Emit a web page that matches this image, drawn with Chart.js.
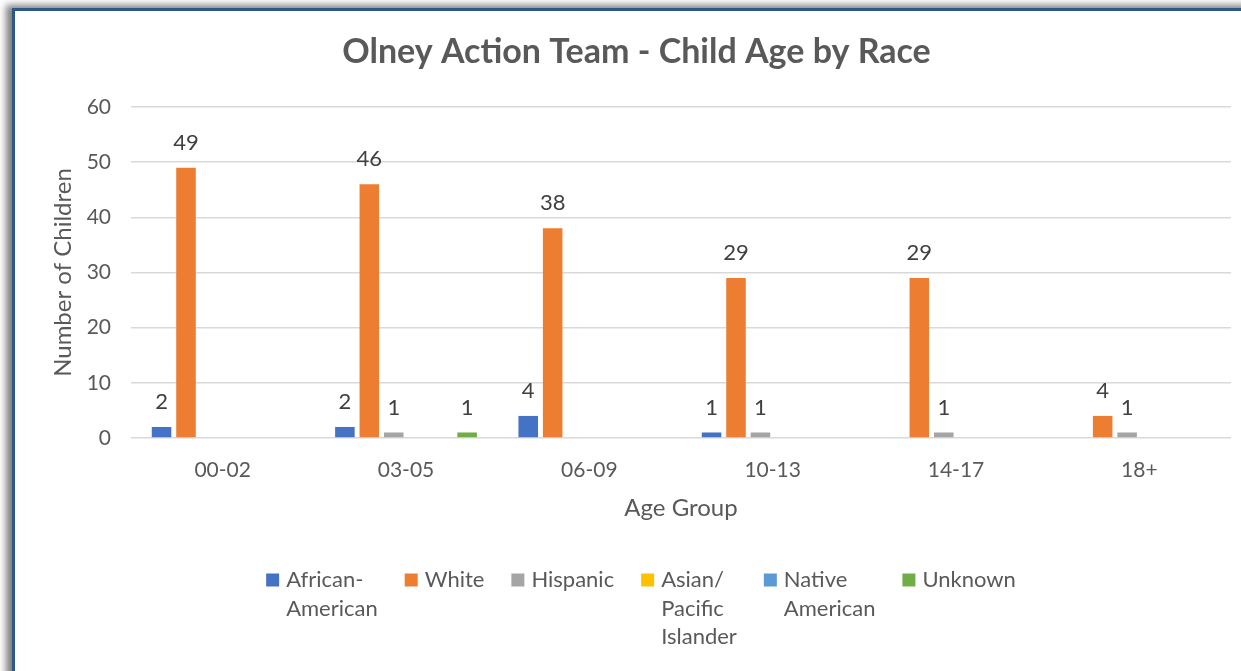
<!DOCTYPE html>
<html>
<head>
<meta charset="utf-8">
<script src="https://cdn.jsdelivr.net/npm/chart.js@4.4.1/dist/chart.umd.min.js"></script>
<style>
  html, body { margin: 0; padding: 0; background: #ffffff; overflow: hidden; width: 1241px; height: 671px; }
  #card { position: absolute; left: 12px; top: 8px; width: 1300px; height: 720px; background: #ffffff;
          border-top: 3px solid #2B5889; border-left: 3px solid #2B5889;
          box-shadow: -6px -3px 7px rgba(0,0,0,0.5); }
  #c { position: absolute; left: 0; top: 0; z-index: 2; }
</style>
</head>
<body>
<div id="card"></div>
<canvas id="c" width="1241" height="671"></canvas>
<script>
// ---- data ----
const categories = ['00-02', '03-05', '06-09', '10-13', '14-17', '18+'];
const africanAmerican = [2, 2, 4, 1, 0, 0];
const white = [49, 46, 38, 29, 29, 4];
const hispanic = [0, 1, 0, 1, 1, 1];
const asianPacific = [0, 0, 0, 0, 0, 0];
const nativeAmerican = [0, 0, 0, 0, 0, 0];
const unknown = [0, 1, 0, 0, 0, 0];
const seriesNames = [['African-', 'American'], ['White'], ['Hispanic'], ['Asian/', 'Pacific', 'Islander'], ['Native', 'American'], ['Unknown']];
const yTicks = [0, 10, 20, 30, 40, 50, 60];

const colors = ['#4472C4', '#ED7D31', '#A5A5A5', '#FFC000', '#5B9BD5', '#70AD47'];
const seriesValues = [africanAmerican, white, hispanic, asianPacific, nativeAmerican, unknown];
const FONT = 'Lato';

const dataLabels = {
  id: 'dataLabels',
  afterDatasetsDraw(chart) {
    const ctx = chart.ctx;
    ctx.save();
    ctx.font = '22px ' + FONT;
    ctx.fillStyle = '#404040';
    ctx.textAlign = 'center';
    ctx.textBaseline = 'middle';
    chart.data.datasets.forEach((ds, i) => {
      const meta = chart.getDatasetMeta(i);
      meta.data.forEach((el, j) => {
        const v = ds.data[j];
        if (v > 0) ctx.fillText(String(v), el.x, el.y - 25);
      });
    });
    ctx.restore();
  }
};

const customLegend = {
  id: 'customLegend',
  afterDraw(chart) {
    const ctx = chart.ctx;
    ctx.save();
    ctx.font = '22px ' + FONT;
    ctx.textBaseline = 'middle';
    ctx.textAlign = 'left';
    const box = 13, boxGap = 7, itemGap = 27, lineH = 28.5;
    const items = chart.data.datasets.map(ds => {
      const lines = ds.legendLines;
      const w = Math.max(...lines.map(l => ctx.measureText(l).width));
      return { lines, w, color: ds.backgroundColor };
    });
    const total = items.reduce((s, it) => s + box + boxGap + it.w, 0) + itemGap * (items.length - 1);
    let x = 641 - total / 2;
    const y0 = chart.chartArea.bottom + 142;
    items.forEach(it => {
      ctx.fillStyle = it.color;
      ctx.fillRect(x, y0 - box / 2, box, box);
      ctx.fillStyle = '#595959';
      it.lines.forEach((l, k) => ctx.fillText(l, x + box + boxGap, y0 + k * lineH));
      x += box + boxGap + it.w + itemGap;
    });
    ctx.restore();
  }
};

new Chart(document.getElementById('c'), {
  type: 'bar',
  data: {
    labels: categories,
    datasets: seriesValues.map((vals, i) => ({
      label: seriesNames[i].join(' '),
      legendLines: seriesNames[i],
      data: vals,
      backgroundColor: colors[i],
      categoryPercentage: 0.8,
      barPercentage: 0.8
    }))
  },
  options: {
    responsive: false,
    animation: false,
    layout: { padding: { left: 42, right: 10, top: 0, bottom: 148 } },
    plugins: {
      legend: { display: false },
      tooltip: { enabled: false },
      title: {
        display: true,
        text: 'Olney Action Team - Child Age by Race',
        color: '#595959',
        font: { family: FONT, size: 34, weight: 'bold', lineHeight: 1.2 },
        padding: { top: 31.6, bottom: 34.6 }
      }
    },
    scales: {
      x: {
        grid: { display: false, drawTicks: false },
        border: { display: false },
        ticks: { color: '#595959', font: { family: FONT, size: 21 }, padding: 20 },
        title: { display: true, text: 'Age Group', color: '#595959', font: { family: FONT, size: 24, lineHeight: 1.2 }, padding: { top: 0, bottom: 0 } },
        afterFit(scale) { scale.height = 85; }
      },
      y: {
        min: 0, max: 60,
        afterBuildTicks(scale) { scale.ticks = yTicks.map(v => ({ value: v })); },
        grid: { color: '#D9D9D9', lineWidth: 1.5, drawTicks: false },
        border: { display: false },
        ticks: { color: '#595959', font: { family: FONT, size: 21 }, padding: 20 },
        title: { display: true, text: 'Number of Children', color: '#595959', font: { family: FONT, size: 24, lineHeight: 1.2 }, padding: { top: 6.6, bottom: 0 } },
        afterFit(scale) { scale.width = 89; }
      }
    }
  },
  plugins: [dataLabels, customLegend]
});
</script>
</body>
</html>
